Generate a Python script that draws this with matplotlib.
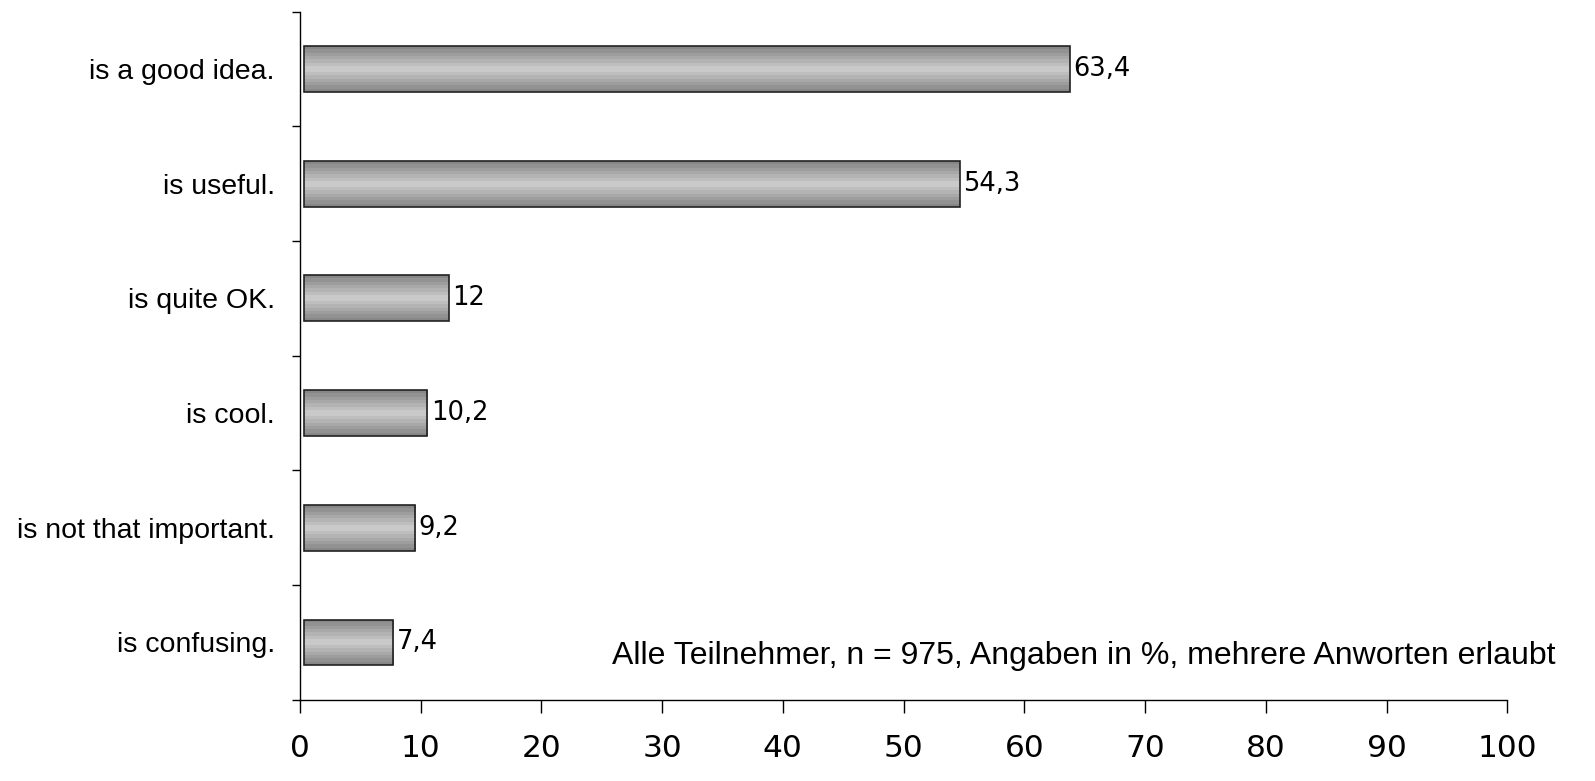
import numpy as np
import matplotlib.pyplot as plt
from matplotlib.colors import LinearSegmentedColormap

categories = ["is a good idea.", "is useful.", "is quite OK.", "is cool.",
              "is not that important.", "is confusing."]
values = [63.4, 54.3, 12, 10.2, 9.2, 7.4]
value_labels = ["63,4", "54,3", "12", "10,2", "9,2", "7,4"]
x_ticks = list(range(0, 101, 10))
note = "Alle Teilnehmer, n = 975, Angaben in %, mehrere Anworten erlaubt"

fig = plt.figure(figsize=(15.95, 7.81), dpi=100)
ax = fig.add_axes([0.188, 0.104, 0.757, 0.881])

y = np.arange(len(categories))
bars = ax.barh(y, values, height=0.4, left=0.35, color='none',
               edgecolor='#222222', linewidth=1.2, zorder=3)

# banded metal-like gradient, dark at the edges, light in the middle
cmap = LinearSegmentedColormap.from_list('bar', ['#878787', '#cfcfcf', '#878787'], N=14)
grad = np.linspace(0, 1, 200).reshape(-1, 1)
for b in bars:
    x0, y0 = b.get_x(), b.get_y()
    w, h = b.get_width(), b.get_height()
    im = ax.imshow(grad, cmap=cmap, aspect='auto', extent=(x0, x0 + w, y0 + h, y0),
                   interpolation='nearest', zorder=2)
    im.set_clip_path(b)

for b, lab in zip(bars, value_labels):
    ax.text(b.get_x() + b.get_width() + 0.3, b.get_y() + b.get_height() / 2, lab,
            va='center', ha='left', fontsize=18.5, family='DejaVu Sans')

ax.set_xlim(0, 100)
ax.set_ylim(len(categories) - 0.5, -0.5)
ax.set_xticks(x_ticks)
ax.set_xticklabels([str(t) for t in x_ticks], fontsize=22.5, family='DejaVu Sans')
ax.tick_params(axis='x', direction='out', length=9, width=1, pad=16)

ax.set_yticks(y)
ax.set_yticklabels(categories, fontsize=20.5, family='Liberation Sans')
ax.set_yticks(np.arange(len(categories) + 1) - 0.5, minor=True)
ax.tick_params(axis='y', which='major', length=0, pad=18)
ax.tick_params(axis='y', which='minor', direction='out', length=6, width=1)

for s in ['top', 'right']:
    ax.spines[s].set_visible(False)
for s in ['left', 'bottom']:
    ax.spines[s].set_linewidth(1)

fig.text(0.975, 0.16, note, ha='right', va='center', fontsize=23, family='Liberation Sans')

fig.savefig('out.png', dpi=100)
